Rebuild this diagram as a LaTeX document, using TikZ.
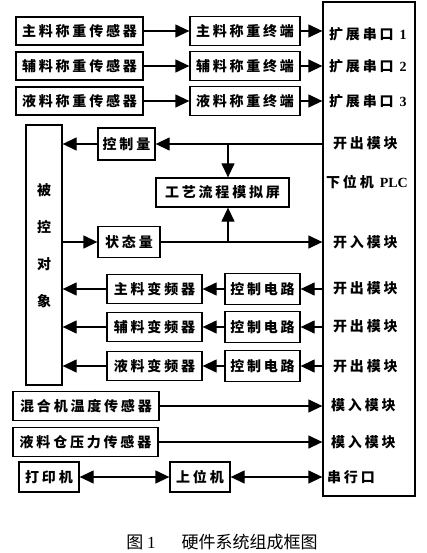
\documentclass[tikz,border=0pt]{standalone}
\usepackage{fontspec}
\setmainfont{Liberation Serif}
\newfontfamily\cjk[LetterSpace=20]{Noto Sans CJK SC}
\newfontfamily\cjkcap{Noto Sans CJK SC}
\usetikzlibrary{positioning,arrows.meta,calc}

\begin{document}
\begin{tikzpicture}[
    x=1pt, y=-1pt,
    >={Triangle[length=14pt,width=13pt]},
    font={\cjk\bfseries\fontsize{14pt}{16pt}\selectfont},
    box/.style={
        draw=black,
        line width=1.3pt,
        inner sep=0pt,
        minimum height=29pt,
        align=center
    },
    lbl/.style={
        anchor=west,
        inner sep=0pt
    },
    arr/.style={->, line width=1.3pt},
    darr/.style={<->, line width=1.3pt}
]
\useasboundingbox (0,0) rectangle (426,553);

% PLC
\node[box, minimum width=92pt, minimum height=494pt] (plc) at (369,249) {};

% weighing rows
\node[box, minimum width=127pt, minimum height=28pt] (zhus) at (79.5,31) {主料称重传感器};
\node[box, minimum width=110pt] (zhut) at (245,31) {主料称重终端};
\node[lbl] (port1) at (329,34) {扩展串口 {\rmfamily 1}};

\node[box, minimum width=127pt, minimum height=28pt] (fus) at (79.5,66) {辅料称重传感器};
\node[box, minimum width=110pt] (fut) at (245,66) {辅料称重终端};
\node[lbl] (port2) at (329,66) {扩展串口 {\rmfamily 2}};

\node[box, minimum width=127pt, minimum height=28pt] (yes) at (79.5,101) {液料称重传感器};
\node[box, minimum width=110pt] (yet) at (245,101) {液料称重终端};
\node[lbl] (port3) at (329,101) {扩展串口 {\rmfamily 3}};

\draw[arr] (zhus) -- (zhut);
\draw[arr] (zhut) -- (zhut -| plc.west);
\draw[arr] (fus) -- (fut);
\draw[arr] (fut) -- (fut -| plc.west);
\draw[arr] (yes) -- (yet);
\draw[arr] (yet) -- (yet -| plc.west);

% controlled object
\node[box, minimum width=36pt, minimum height=260pt] (obj) at (44,255) {};
\node[align=center, inner sep=0pt, font={\cjk\bfseries\fontsize{14pt}{37pt}\selectfont}] (objtxt) at (44,246) {被\\控\\对\\象};

\node[box, minimum width=57pt, minimum height=32pt] (cq) at (126.5,144) {控制量};
\node[box, minimum width=133pt] (screen) at (222.5,192.5) {工艺流程模拟屏};
\node[box, minimum width=62pt, minimum height=31pt] (sq) at (129,242) {状态量};

\node[lbl] (kc0) at (333,143) {开出模块};
\node[lbl] (plcname) at (326,182) {下位机 {\rmfamily PLC}};
\node[lbl] (kr0) at (333,242) {开入模块};

\coordinate (cqtap) at (228,144);
\coordinate (sqtap) at (228,242);

\draw[arr] (plc.west |- cq) -- (cq);
\draw[arr] (cq) -- (cq -| obj.east);
\draw[arr] (cqtap) -- (cqtap |- screen.north);
\draw[arr] (obj.east |- sq) -- (sq);
\draw[arr] (sq) -- (sq -| plc.west);
\draw[arr] (sqtap) -- (sqtap |- screen.south);

% inverter rows
\node[box, minimum width=95pt] (zhuf) at (154.5,289) {主料变频器};
\node[box, minimum width=75pt, minimum height=31pt] (ctl1) at (262.5,289) {控制电路};
\node[lbl] (kc1) at (333,288) {开出模块};

\node[box, minimum width=95pt] (fuf) at (154.5,327) {辅料变频器};
\node[box, minimum width=75pt, minimum height=31pt] (ctl2) at (262.5,327) {控制电路};
\node[lbl] (kc2) at (333,326) {开出模块};

\node[box, minimum width=95pt] (yef) at (154.5,366) {液料变频器};
\node[box, minimum width=75pt, minimum height=31pt] (ctl3) at (262.5,366) {控制电路};
\node[lbl] (kc3) at (333,366) {开出模块};

\draw[arr] (ctl1 -| plc.west) -- (ctl1);
\draw[arr] (ctl1) -- (zhuf);
\draw[arr] (zhuf) -- (zhuf -| obj.east);
\draw[arr] (ctl2 -| plc.west) -- (ctl2);
\draw[arr] (ctl2) -- (fuf);
\draw[arr] (fuf) -- (fuf -| obj.east);
\draw[arr] (ctl3 -| plc.west) -- (ctl3);
\draw[arr] (ctl3) -- (yef);
\draw[arr] (yef) -- (yef -| obj.east);

% analog sensors
\node[box, minimum width=146pt] (temp) at (86,406) {混合机温度传感器};
\node[lbl] (mr1) at (331,405) {模入模块};
\node[box, minimum width=145pt] (pres) at (85.5,442) {液料仓压力传感器};
\node[lbl] (mr2) at (331,442) {模入模块};

\draw[arr] (temp) -- (temp -| plc.west);
\draw[arr] (pres) -- (pres -| plc.west);

% printer and host
\node[box, minimum width=60pt, minimum height=30pt] (printer) at (49,477) {打印机};
\node[box, minimum width=60pt, minimum height=30pt] (host) at (200,477) {上位机};
\node[lbl] (serial) at (327,477) {串行口};

\draw[darr] (printer) -- (host);
\draw[darr] (host) -- (host -| plc.west);

% caption
\node[font={\cjkcap\fontsize{17pt}{19pt}\selectfont}] (caption) at (222,542) {图 {\rmfamily 1}\hspace{26pt}硬件系统组成框图};

\end{tikzpicture}
\end{document}
